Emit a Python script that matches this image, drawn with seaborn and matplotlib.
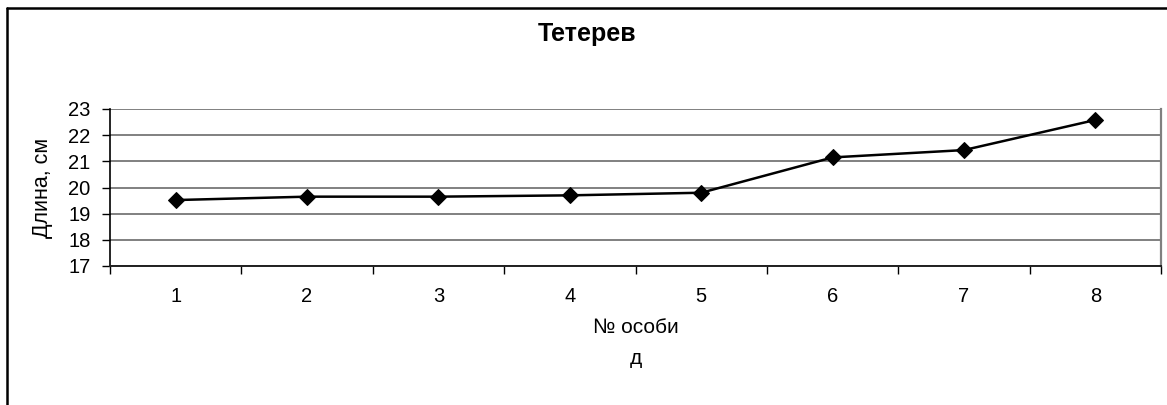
import numpy as np
import pandas as pd
import matplotlib
matplotlib.use("Agg")
import matplotlib.pyplot as plt
from matplotlib.lines import Line2D
from matplotlib.ticker import FixedLocator
import seaborn as sns

# ---- data ----
categories = ["1", "2", "3", "4", "5", "6", "7", "8"]
lengths = [19.52, 19.65, 19.65, 19.70, 19.80, 21.15, 21.43, 22.58]
y_ticks = [17, 18, 19, 20, 21, 22, 23]
title = "Тетерев"
x_label = "№ особи\nд"
y_label = "Длина, см"

sns.set_style("white")
plt.rcParams["font.family"] = ["Liberation Sans", "DejaVu Sans"]
plt.rcParams.update({"text.color": "black", "axes.labelcolor": "black",
                     "xtick.color": "black", "ytick.color": "black"})

FS = 14.5
W, H = 1167, 405
fig = plt.figure(figsize=(W / 100, H / 100), dpi=100)
left, right, top, bottom = 110, 1161, 109, 266
ax = fig.add_axes([left / W, 1 - bottom / H, (right - left) / W, (bottom - top) / H])

df = pd.DataFrame({"pos": np.arange(len(categories)), "val": lengths})
sns.lineplot(data=df, x="pos", y="val", ax=ax, color="black", linewidth=1.8,
             marker="D", markersize=8.5, markeredgecolor="black",
             markerfacecolor="black")

ax.set_xlim(-0.5, len(categories) - 0.5)
ax.set_ylim(y_ticks[0], y_ticks[-1])
ax.set_yticks(y_ticks)
ax.set_xticks(np.arange(len(categories)))
ax.set_xticklabels(categories)
ax.xaxis.set_minor_locator(FixedLocator(np.arange(-0.5, len(categories), 1.0)))

ax.tick_params(axis="x", which="major", length=0, pad=15, labelsize=FS, labelcolor="black")
ax.tick_params(axis="x", which="minor", length=6, width=1, color="black", direction="out", bottom=True)
ax.tick_params(axis="y", which="major", length=6, width=1, color="black", direction="out",
               left=True, labelsize=FS, pad=8, labelcolor="black")

ax.yaxis.grid(True, color="#808080", linewidth=1.4)
ax.set_axisbelow(True)
ax.spines["top"].set_visible(False)
ax.spines["left"].set_color("black")
ax.spines["left"].set_linewidth(1.2)
ax.spines["bottom"].set_color("#202020")
ax.spines["bottom"].set_linewidth(1.4)
ax.spines["right"].set_color("#808080")
ax.spines["right"].set_linewidth(1.6)

ax.set_xlabel(x_label, fontsize=15, labelpad=9, linespacing=1.75, color="black")
ax.set_ylabel(y_label, fontsize=15.5, labelpad=11, color="black")

fig.text(587 / W, 1 - 34 / H, title, ha="center", va="center", fontsize=18,
         fontweight="bold", color="black")

# outer chart border (left and top visible)
fig.add_artist(Line2D([7 / W, 7 / W], [0, 1 - 8 / H], transform=fig.transFigure,
                      color="black", linewidth=1.8))
fig.add_artist(Line2D([7 / W, 1], [1 - 8 / H, 1 - 8 / H], transform=fig.transFigure,
                      color="black", linewidth=1.8))

fig.savefig("out.png", dpi=100, facecolor="white")
